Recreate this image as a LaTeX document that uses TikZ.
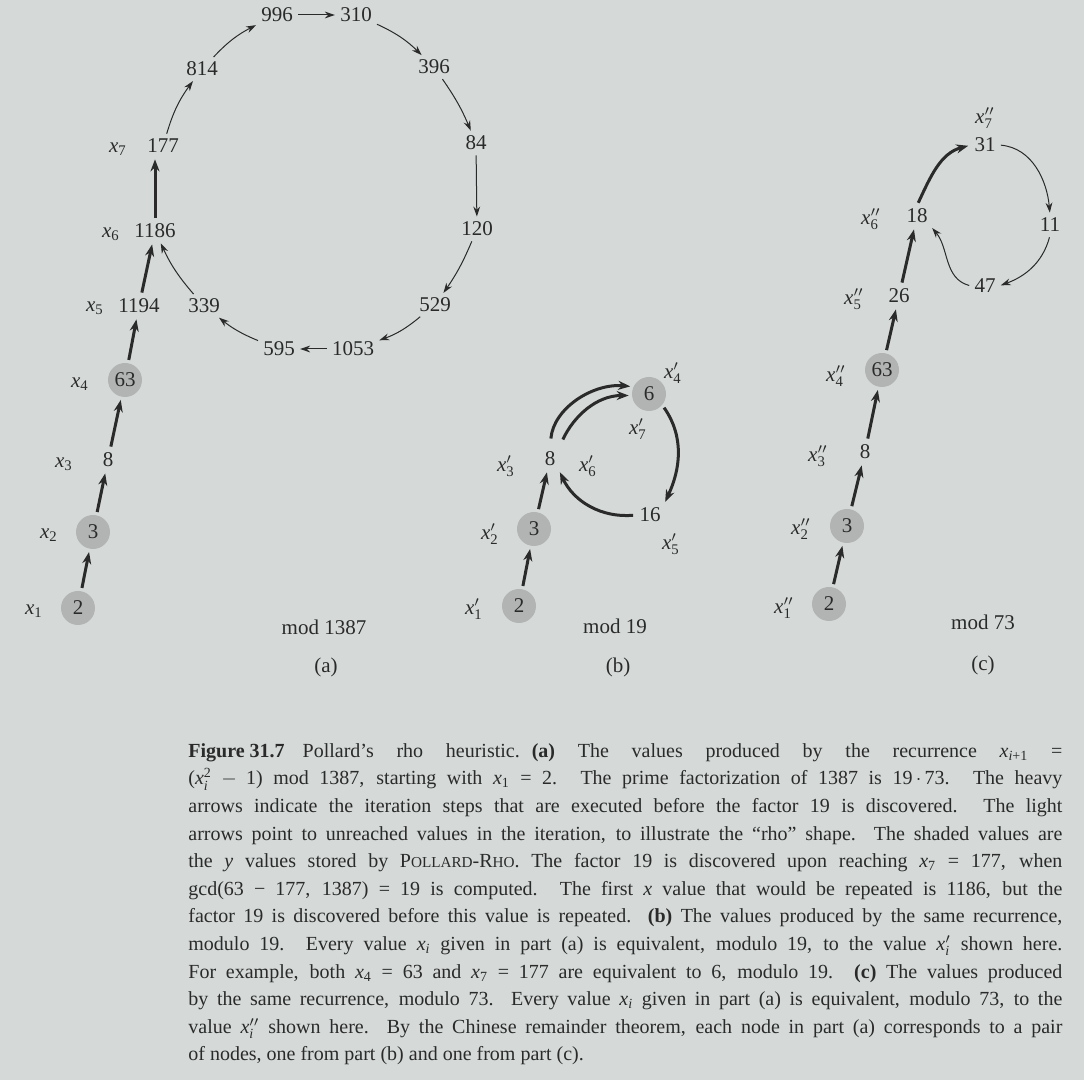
\documentclass[tikz,border=0pt]{standalone}
\usepackage{amsmath}
\usepackage{fontspec}
\setmainfont{Liberation Serif}
\usetikzlibrary{arrows.meta}
\definecolor{paper}{RGB}{213,218,217}
\definecolor{ink}{RGB}{42,42,42}
\definecolor{shade}{RGB}{178,180,179}
\newcommand\xv[2]{\ensuremath{\textit{x}#2_{\text{#1}}}}
\newcommand\smc[1]{{\fontsize{7.6}{9}\selectfont #1}}
\tikzset{
  numf/.style={font=\fontsize{10.5}{12}\selectfont},
  num/.style={numf, text=ink, inner sep=1.5pt},
  yval/.style={numf, text=ink, circle, fill=shade, inner sep=0pt, minimum size=17pt},
  lab/.style={numf, text=ink, inner sep=0pt},
  heavy/.style={draw=ink, line width=1.5pt, -{Stealth[length=6pt,width=4.5pt]}, shorten <=1.5pt, shorten >=1.5pt},
  light/.style={draw=ink, line width=0.5pt, -{Stealth[length=5pt,width=3.4pt]}, shorten <=1pt, shorten >=1pt},
}
\begin{document}
\begin{tikzpicture}[x=0.5pt,y=0.5pt]
\fill[paper] (0,0) rectangle (1084,-1080);
\useasboundingbox (0,0) rectangle (1084,-1080);

% ---------- (a) ----------
\node[yval] (a2) at (78,-608) {2};
\node[yval] (a3) at (93,-532) {3};
\node[num] (a8) at (108,-460) {8};
\node[yval] (a63) at (125,-380) {63};
\node[num] (a1194) at (139,-306) {1194};
\node[num] (a1186) at (155,-231) {1186};
\node[num] (a177) at (163,-146) {177};
\node[num] (a814) at (202,-69) {814};
\node[num] (a996) at (277,-15) {996};
\node[num] (a310) at (356,-15) {310};
\node[num] (a396) at (434,-67) {396};
\node[num] (a84) at (476,-143) {84};
\node[num] (a120) at (477,-229) {120};
\node[num] (a529) at (435,-305) {529};
\node[num] (a1053) at (353,-349) {1053};
\node[num] (a595) at (279,-349) {595};
\node[num] (a339) at (204,-306) {339};

\node[lab] (la1) at (34,-611) {\xv{1}{}};
\node[lab] (la2) at (49,-535) {\xv{2}{}};
\node[lab] (la3) at (64,-464) {\xv{3}{}};
\node[lab] (la4) at (80,-384) {\xv{4}{}};
\node[lab] (la5) at (95,-308) {\xv{5}{}};
\node[lab] (la6) at (111,-234) {\xv{6}{}};
\node[lab] (la7) at (118,-149) {\xv{7}{}};

\node[lab] (moda) at (324,-627) {mod 1387};
\node[lab] (capa) at (326,-667) {(a)};

\draw[heavy] (a2) -- (a3);
\draw[heavy] (a3) -- (a8);
\draw[heavy] (a8) -- (a63);
\draw[heavy] (a63) -- (a1194);
\draw[heavy] (a1194) -- (a1186);
\draw[heavy] (a1186.north) -- (a1186.north |- a177.south);

\draw[light] (a177) to[bend left=10] (a814);
\draw[light] (a814) to[bend left=10] (a996);
\draw[light] (a996) -- (a310);
\draw[light] (a310) to[bend left=10] (a396);
\draw[light] (a396) to[bend left=6] (a84);
\draw[light] (a84) -- (a120);
\draw[light] (a120) to[bend left=6] (a529);
\draw[light] (a529) to[bend left=10] (a1053);
\draw[light] (a1053) -- (a595);
\draw[light] (a595) to[bend left=8] (a339);
\draw[light] (a339) to[bend left=8] (a1186);

% ---------- (b) ----------
\node[yval] (b2) at (519,-606) {2};
\node[yval] (b3) at (534,-529) {3};
\node[num] (b8) at (550,-459) {8};
\node[yval] (b6) at (649,-394) {6};
\node[num] (b16) at (650,-515) {16};

\node[lab] (lb1) at (474,-609) {\xv{1}{'}};
\node[lab] (lb2) at (490,-534) {\xv{2}{'}};
\node[lab] (lb3) at (506,-466) {\xv{3}{'}};
\node[lab] (lb6) at (588,-466) {\xv{6}{'}};
\node[lab] (lb7) at (638,-429) {\xv{7}{'}};
\node[lab] (lb4) at (673,-373) {\xv{4}{'}};
\node[lab] (lb5) at (671,-544) {\xv{5}{'}};

\node[lab] (modb) at (615,-626) {mod 19};
\node[lab] (capb) at (618,-667) {(b)};

\draw[heavy] (b2) -- (b3);
\draw[heavy] (b3) -- (b8);
\draw[heavy, shorten <=5pt] (b8.north) to[out=85,in=175] (b6.155);
\draw[heavy, shorten <=5pt] (b8.north east) to[out=65,in=180] (b6.185);
\draw[heavy] (b6.320) to[out=-55,in=65] (b16.north east);
\draw[heavy] (b16.west) to[out=185,in=-65] (b8.south east);

% ---------- (c) ----------
\node[yval] (c2) at (829,-604) {2};
\node[yval] (c3) at (847,-526) {3};
\node[num] (c8) at (865,-452) {8};
\node[yval] (c63) at (882,-370) {63};
\node[num] (c26) at (899,-296) {26};
\node[num] (c18) at (917,-216) {18};
\node[num] (c31) at (985,-145) {31};
\node[num] (c11) at (1050,-225) {11};
\node[num] (c47) at (985,-286) {47};

\node[lab] (lc1) at (784,-608) {\xv{1}{''}};
\node[lab] (lc2) at (801,-529) {\xv{2}{''}};
\node[lab] (lc3) at (818,-456) {\xv{3}{''}};
\node[lab] (lc4) at (836,-376) {\xv{4}{''}};
\node[lab] (lc5) at (854,-299) {\xv{5}{''}};
\node[lab] (lc6) at (871,-219) {\xv{6}{''}};
\node[lab] (lc7) at (985,-118) {\xv{7}{''}};

\node[lab] (modc) at (983,-622) {mod 73};
\node[lab] (capc) at (983,-665) {(c)};

\draw[heavy] (c2) -- (c3);
\draw[heavy] (c3) -- (c8);
\draw[heavy] (c8) -- (c63);
\draw[heavy] (c63) -- (c26);
\draw[heavy] (c26) -- (c18);
\draw[heavy] (c18.north) to[out=65,in=195] (c31.west);
\draw[light] (c31.east) to[out=-5,in=95] (c11.north);
\draw[light] (c11.south) to[out=-105,in=20] (c47.east);
\draw[light] (c47.west) to[out=165,in=-50] (c18.south east);

% ---------- caption ----------
\node[anchor=north west, inner sep=0pt, text width=437pt, align=justify, text=ink,
      font=\fontsize{10}{13.8}\selectfont] (cap) at (188,-743) {%
\mbox{\textbf{Figure 31.7}}\hspace{0.9em}Pollard’s rho heuristic.\hspace{0.6em}\textbf{(a)} The values produced by the recurrence \xv{\textit{i}+1}{} =\linebreak
(\ensuremath{\textit{x}^{\text{2}}_{\text{\textit{i}}} - \text{1}}) mod 1387, starting with \xv{1}{} = 2. The prime factorization of 1387 is 19\,$\cdot$\,73. The heavy\linebreak
arrows indicate the iteration steps that are executed before the factor 19 is discovered. The light\linebreak
arrows point to unreached values in the iteration, to illustrate the “rho” shape. The shaded values are\linebreak
the \textit{y} values stored by P\smc{OLLARD}-R\smc{HO}. The factor 19 is discovered upon reaching \xv{7}{} = 177, when\linebreak
gcd(63 − 177, 1387) = 19 is computed. The first \textit{x} value that would be repeated is 1186, but the\linebreak
factor 19 is discovered before this value is repeated. \textbf{(b)} The values produced by the same recurrence,\linebreak
modulo 19. Every value \xv{\textit{i}}{} given in part (a) is equivalent, modulo 19, to the value \xv{\textit{i}}{'} shown here.\linebreak
For example, both \xv{4}{} = 63 and \xv{7}{} = 177 are equivalent to 6, modulo 19. \textbf{(c)} The values produced\linebreak
by the same recurrence, modulo 73. Every value \xv{\textit{i}}{} given in part (a) is equivalent, modulo 73, to the\linebreak
value \xv{\textit{i}}{''} shown here. By the Chinese remainder theorem, each node in part (a) corresponds to a pair\linebreak
of nodes, one from part (b) and one from part (c).};
\end{tikzpicture}
\end{document}
